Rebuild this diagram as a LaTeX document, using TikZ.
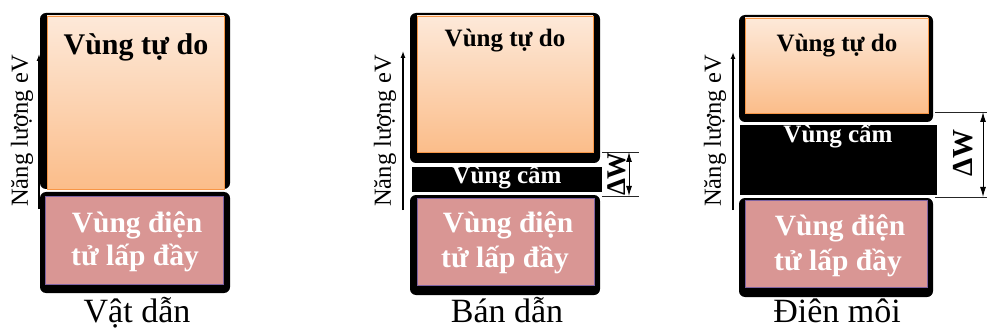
\documentclass[tikz,border=0pt]{standalone}
\usepackage{fontspec}
\setmainfont{Liberation Serif}
\usetikzlibrary{arrows.meta,calc}
\definecolor{freetop}{HTML}{FDE9D9}
\definecolor{freebot}{HTML}{FBBD8A}
\definecolor{freeline}{HTML}{F79646}
\definecolor{fullfill}{HTML}{D99694}
\definecolor{fullline}{HTML}{7F63A1}
\begin{document}
\begin{tikzpicture}
        [x=1pt,y=-1pt, frame/.style={fill=black,rounded corners=6pt},
         freeband/.style={top color=freetop,bottom color=freebot,draw=freeline,line width=0.8pt},
         fullband/.style={fill=fullfill,draw=fullline,line width=0.8pt},
         bandtext/.style={anchor=base,inner sep=0,font=\bfseries},
         axis/.style={line width=1.3pt,-{Latex[length=7pt,width=5pt]}},
         gapline/.style={line width=0.8pt,draw=black!85},
         gaparrow/.style={line width=1pt,{Latex[length=10pt,width=6pt]}-{Latex[length=10pt,width=6pt]}}]

        \useasboundingbox (0,0) rectangle (987,331);

        % Vat dan
        \fill[frame] (40,13) rectangle (230,189);
        \shade[freeband] (47,16) rectangle (224,189);
        \fill[frame] (40,192) rectangle (230,293);
        \draw[fullband] (45,196) rectangle (223,284);
        \node[bandtext,font=\fontsize{30}{34}\selectfont\bfseries] (free1) at (136,55) {Vùng tự do};
        \node[bandtext,text=white,font=\fontsize{29.5}{34}\selectfont\bfseries] (full1a) at (137,232) {Vùng điện};
        \node[bandtext,text=white,font=\fontsize{29.5}{34}\selectfont\bfseries] (full1b) at (135,265) {tử lấp đầy};
        \coordinate (e1s) at (39,209);
        \coordinate (e1t) at (39,54);
        \draw[axis] (e1s) -- (e1t);
        \node[rotate=90,inner sep=0,font=\fontsize{24.5}{28}\selectfont] (lab1) at (22,131) {Năng lượng eV};
        \node[anchor=base,inner sep=0,font=\fontsize{34}{40}\selectfont] (name1) at (137,322) {Vật dẫn};

        % Ban dan
        \fill[frame] (410,13) rectangle (600,163);
        \shade[freeband] (417,16) rectangle (593,152);
        \fill[black] (412,167) rectangle (602,192);
        \fill[frame] (410,195) rectangle (600,295);
        \draw[fullband] (417,198) rectangle (594,285);
        \node[bandtext,font=\fontsize{25}{30}\selectfont\bfseries] (free2) at (505,47) {Vùng tự do};
        \node[bandtext,text=white,font=\fontsize{25}{30}\selectfont\bfseries] (gap2) at (507,183) {Vùng cấm};
        \node[bandtext,text=white,font=\fontsize{29.5}{34}\selectfont\bfseries] (full2a) at (508,232) {Vùng điện};
        \node[bandtext,text=white,font=\fontsize{29.5}{34}\selectfont\bfseries] (full2b) at (505,267) {tử lấp đầy};
        \coordinate (w2a) at (602,152);
        \coordinate (w2b) at (639,152);
        \coordinate (w2c) at (602,196);
        \coordinate (w2d) at (639,196);
        \draw[gapline] (w2a) -- (w2b);
        \draw[gapline] (w2c) -- (w2d);
        \draw[gaparrow] ($(w2b)+(-10,0)$) -- ($(w2d)+(-10,0)$);
        \node[rotate=90,inner sep=0,font=\fontsize{27}{30}\selectfont\bfseries] (dw2) at (617,174) {ΔW};
        \coordinate (e2s) at (403,210);
        \coordinate (e2t) at (403,51);
        \draw[axis] (e2s) -- (e2t);
        \node[rotate=90,inner sep=0,font=\fontsize{24.5}{28}\selectfont] (lab2) at (385,131) {Năng lượng eV};
        \node[anchor=base,inner sep=0,font=\fontsize{34}{40}\selectfont] (name2) at (507,322) {Bán dẫn};

        % Dien moi
        \fill[frame] (739,15) rectangle (933,122);
        \shade[freeband] (745,18) rectangle (928,113);
        \fill[black] (740,125) rectangle (937,195);
        \fill[frame] (739,198) rectangle (933,297);
        \draw[fullband] (745,200) rectangle (927,287);
        \node[bandtext,font=\fontsize{25}{30}\selectfont\bfseries] (free3) at (837,52) {Vùng tự do};
        \node[bandtext,text=white,font=\fontsize{25}{30}\selectfont\bfseries] (gap3) at (838,143) {Vùng cấm};
        \node[bandtext,text=white,font=\fontsize{29.5}{34}\selectfont\bfseries] (full3a) at (840,235) {Vùng điện};
        \node[bandtext,text=white,font=\fontsize{29.5}{34}\selectfont\bfseries] (full3b) at (838,270) {tử lấp đầy};
        \coordinate (w3a) at (935,112);
        \coordinate (w3b) at (987,112);
        \coordinate (w3c) at (935,197);
        \coordinate (w3d) at (987,197);
        \draw[gapline] (w3a) -- (w3b);
        \draw[gapline] (w3c) -- (w3d);
        \draw[gaparrow] ($(w3b)+(-4,0)$) -- ($(w3d)+(-4,0)$);
        \node[rotate=90,inner sep=0,font=\fontsize{29}{32}\selectfont\bfseries] (dw3) at (963,153) {ΔW};
        \coordinate (e3s) at (733,210);
        \coordinate (e3t) at (733,52);
        \draw[axis] (e3s) -- (e3t);
        \node[rotate=90,inner sep=0,font=\fontsize{24.5}{28}\selectfont] (lab3) at (715,131) {Năng lượng eV};
        \node[anchor=base,inner sep=0,font=\fontsize{34}{40}\selectfont] (name3) at (837,322) {Điên môi};
      \end{tikzpicture}
\end{document}
